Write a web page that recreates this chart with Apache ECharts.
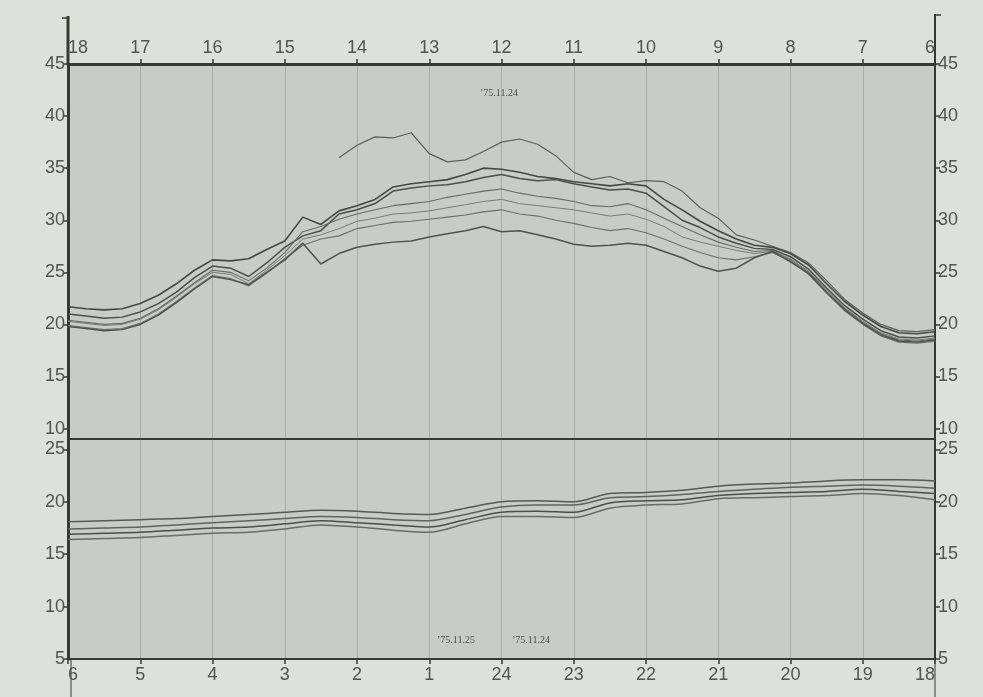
<!DOCTYPE html>
<html>
<head>
<meta charset="utf-8">
<script src="https://cdn.jsdelivr.net/npm/echarts@6/dist/echarts.min.js"></script>
<style>
html,body{margin:0;padding:0;background:#dee1da;}
#chart{width:983px;height:697px;}
</style>
</head>
<body>
<div id="chart"></div>
<script>
// x positions: hours elapsed from the left edge (top axis 18h -> 6h)
var topHours = [0,0.25,0.5,0.75,1,1.25,1.5,1.75,2,2.25,2.5,2.75,3,3.25,3.5,3.75,4,4.25,4.5,4.75,5,5.25,5.5,5.75,6,6.25,6.5,6.75,7,7.25,7.5,7.75,8,8.25,8.5,8.75,9,9.25,9.5,9.75,10,10.25,10.5,10.75,11,11.25,11.5,11.75,12];
var topTicks = [18,17,16,15,14,13,12,11,10,9,8,7,6];
var bottomTicks = [6,5,4,3,2,1,24,23,22,21,20,19,18];
var topYTicks = [10,15,20,25,30,35,40,45];
var bottomYTicks = [5,10,15,20,25];

var traceA = [null,null,null,null,null,null,null,null,null,null,null,null,null,null,null,36.0,37.2,38.0,37.9,38.4,36.4,35.6,35.8,36.6,37.5,37.8,37.3,36.2,34.6,33.9,34.2,33.6,33.8,33.7,32.8,31.2,30.2,28.6,28.1,27.5,26.9,25.9,24.2,22.4,21.1,20.0,19.4,19.3,19.5];
var traceB = [21.7,21.5,21.4,21.5,22.0,22.8,23.9,25.2,26.2,26.1,26.3,27.2,28.0,30.3,29.6,30.9,31.4,32.0,33.2,33.5,33.7,33.9,34.4,35.0,34.9,34.6,34.2,34.0,33.7,33.5,33.3,33.5,33.3,32.0,31.0,29.9,29.0,28.2,27.6,27.4,26.8,25.7,23.9,22.2,20.9,19.8,19.2,19.1,19.3];
var traceC = [21.0,20.8,20.6,20.7,21.2,22.0,23.1,24.5,25.6,25.4,24.6,25.9,27.4,28.5,29.0,30.6,31.0,31.6,32.8,33.1,33.3,33.4,33.7,34.1,34.4,34.0,33.8,33.9,33.5,33.2,32.9,33.0,32.6,31.3,30.0,29.3,28.4,27.8,27.3,27.2,26.5,25.3,23.5,21.8,20.5,19.4,18.8,18.7,18.9];
var traceD = [20.4,20.2,20.0,20.1,20.6,21.5,22.7,24.0,25.2,25.0,24.2,25.4,26.9,28.9,29.4,30.1,30.6,31.0,31.4,31.6,31.8,32.2,32.5,32.8,33.0,32.6,32.3,32.1,31.8,31.4,31.3,31.6,31.0,30.2,29.4,28.6,27.9,27.4,27.0,27.1,26.2,25.0,23.1,21.5,20.2,19.1,18.5,18.4,18.6];
var traceE = [20.3,20.1,19.9,20.0,20.5,21.4,22.6,23.9,25.0,24.8,23.9,25.2,26.6,28.2,28.6,29.2,29.9,30.2,30.6,30.7,30.9,31.2,31.5,31.8,32.0,31.6,31.4,31.2,31.0,30.7,30.4,30.6,30.1,29.4,28.4,27.9,27.5,27.1,26.8,27.0,26.3,25.1,23.3,21.6,20.3,19.2,18.6,18.5,18.7];
var traceF = [19.9,19.7,19.5,19.6,20.1,21.0,22.2,23.5,24.7,24.4,23.7,24.9,26.3,27.6,28.2,28.5,29.2,29.5,29.8,29.9,30.1,30.3,30.5,30.8,31.0,30.6,30.4,30.0,29.7,29.3,29.0,29.2,28.8,28.2,27.5,26.9,26.4,26.2,26.5,26.9,26.1,24.8,23.0,21.3,20.0,18.9,18.3,18.2,18.4];
var traceG = [19.8,19.6,19.4,19.5,20.0,20.9,22.1,23.4,24.6,24.3,23.8,25.0,26.2,27.8,25.8,26.8,27.4,27.7,27.9,28.0,28.4,28.7,29.0,29.4,28.9,29.0,28.6,28.2,27.7,27.5,27.6,27.8,27.6,27.0,26.4,25.6,25.1,25.4,26.4,27.0,26.0,24.9,23.1,21.4,20.1,19.0,18.4,18.3,18.5];

// bottom panel (axis 6h -> 18h across midnight)
var bottomHours = [0,0.5,1,1.5,2,2.5,3,3.5,4,4.5,5,5.5,6,6.5,7,7.5,8,8.5,9,9.5,10,10.5,11,11.5,12];
var low1 = [18.1,18.2,18.3,18.4,18.6,18.8,19.0,19.2,19.1,18.9,18.8,19.4,20.0,20.1,20.0,20.8,20.9,21.1,21.5,21.7,21.8,22.0,22.1,22.1,22.0];
var low2 = [17.4,17.5,17.6,17.8,18.0,18.2,18.4,18.6,18.5,18.3,18.2,18.8,19.5,19.7,19.7,20.4,20.5,20.7,21.0,21.2,21.4,21.5,21.6,21.5,21.3];
var low3 = [16.9,17.0,17.1,17.3,17.5,17.6,17.9,18.2,18.0,17.8,17.6,18.3,19.0,19.1,19.0,19.9,20.1,20.2,20.6,20.8,20.9,21.0,21.2,21.0,20.8];
var low4 = [16.4,16.5,16.6,16.8,17.0,17.1,17.4,17.8,17.6,17.3,17.1,17.9,18.6,18.6,18.5,19.4,19.7,19.8,20.3,20.4,20.5,20.6,20.8,20.6,20.2];

var topTraces = [traceA, traceB, traceC, traceD, traceE, traceF, traceG];
var topColors = ['#5a605a','#444944','#4a4f4a','#666c66','#767c76','#6b716b','#4e534e'];
var topWidths = [1.2,1.6,1.5,1.1,1.0,1.1,1.5];
var bottomTraces = [low1, low2, low3, low4];
var bottomColors = ['#555a55','#5e645e','#4a4f4a','#666c66'];

function pairs(xs, ys){ return xs.map(function(x,i){ return [x, ys[i]]; }); }

var labelColor = '#50554f';
var axisColor = '#363a36';
var labelFont = {fontSize:18, color:labelColor, fontFamily:'Liberation Sans, Arial, sans-serif'};

function yAxis(grid, pos, min, max, ticks, w){
  return {
    type:'value', gridIndex:grid, position:pos, min:min, max:max,
    axisLine:{show:true, onZero:false, lineStyle:{color:axisColor, width:w}},
    axisTick:{show:true, inside:false, length:5, customValues:ticks, lineStyle:{color:axisColor, width:1.5}},
    axisLabel:Object.assign({customValues:ticks, margin:3}, labelFont),
    splitLine:{show:false}
  };
}

var series = [];
topTraces.forEach(function(t, i){
  series.push({type:'line', xAxisIndex:0, yAxisIndex:0, data:pairs(topHours, t), symbol:'none',
    connectNulls:false, smooth:false, lineStyle:{color:topColors[i], width:topWidths[i]}, silent:true});
});
bottomTraces.forEach(function(t, i){
  series.push({type:'line', xAxisIndex:1, yAxisIndex:2, data:pairs(bottomHours, t), symbol:'none',
    smooth:0.3, lineStyle:{color:bottomColors[i], width:1.5}, silent:true});
});

var option = {
  animation:false,
  backgroundColor:'#dee1da',
  grid:[
    {left:68, right:48, top:64, height:375, show:true, backgroundColor:'#c8ccc5', borderWidth:0},
    {left:68, right:48, top:439, height:220, show:true, backgroundColor:'#c8ccc5', borderWidth:0}
  ],
  xAxis:[
    {type:'value', gridIndex:0, position:'top', min:0, max:12, interval:1,
      axisLine:{show:true, onZero:false, lineStyle:{color:axisColor, width:3}},
      axisTick:{show:true, inside:false, length:5, lineStyle:{color:axisColor, width:1.5}},
      axisLabel:Object.assign({margin:7, alignMinLabel:'left', alignMaxLabel:'right',
        formatter:function(v){ return String(topTicks[Math.round(v)]); }}, labelFont),
      splitLine:{show:true, lineStyle:{color:'rgba(110,116,110,0.35)', width:1}}},
    {type:'value', gridIndex:1, position:'bottom', min:0, max:12, interval:1,
      axisLine:{show:true, onZero:false, lineStyle:{color:axisColor, width:2}},
      axisTick:{show:true, inside:false, length:5, lineStyle:{color:axisColor, width:1.5}},
      axisLabel:Object.assign({margin:7, alignMinLabel:'left', alignMaxLabel:'right',
        formatter:function(v){ return String(bottomTicks[Math.round(v)]); }}, labelFont),
      splitLine:{show:true, lineStyle:{color:'rgba(110,116,110,0.35)', width:1}}},
    {type:'value', gridIndex:0, position:'bottom', min:0, max:12,
      axisLine:{show:true, onZero:false, lineStyle:{color:axisColor, width:2}},
      axisTick:{show:false}, axisLabel:{show:false}, splitLine:{show:false}}
  ],
  yAxis:[
    yAxis(0,'left',9,45,topYTicks,3),
    yAxis(0,'right',9,45,topYTicks,2),
    yAxis(1,'left',5,26,bottomYTicks,3),
    yAxis(1,'right',5,26,bottomYTicks,2)
  ],
  graphic:[
    {type:'line', shape:{x1:68,y1:16,x2:68,y2:64}, style:{stroke:axisColor, lineWidth:3}, silent:true},
    {type:'line', shape:{x1:62,y1:18,x2:68,y2:18}, style:{stroke:axisColor, lineWidth:1.5}, silent:true},
    {type:'line', shape:{x1:71,y1:659,x2:71,y2:697}, style:{stroke:axisColor, lineWidth:1}, silent:true},
    {type:'line', shape:{x1:935,y1:14,x2:935,y2:64}, style:{stroke:axisColor, lineWidth:2}, silent:true},
    {type:'line', shape:{x1:935,y1:15,x2:941,y2:15}, style:{stroke:axisColor, lineWidth:1.5}, silent:true},
    {type:'line', shape:{x1:935,y1:659,x2:935,y2:697}, style:{stroke:axisColor, lineWidth:1}, silent:true},
    {type:'text', left:480, top:88, style:{text:'\u201975.11.24', font:'10px "Liberation Serif", serif', fill:'#4a4f4a'}, silent:true},
    {type:'text', left:437, top:635, style:{text:'\u201975.11.25', font:'10px "Liberation Serif", serif', fill:'#4a4f4a'}, silent:true},
    {type:'text', left:512, top:635, style:{text:'\u201975.11.24', font:'10px "Liberation Serif", serif', fill:'#4a4f4a'}, silent:true}
  ],
  series:series
};

var chart = echarts.init(document.getElementById('chart'), null, {renderer:'canvas'});
chart.setOption(option);
</script>
</body>
</html>
